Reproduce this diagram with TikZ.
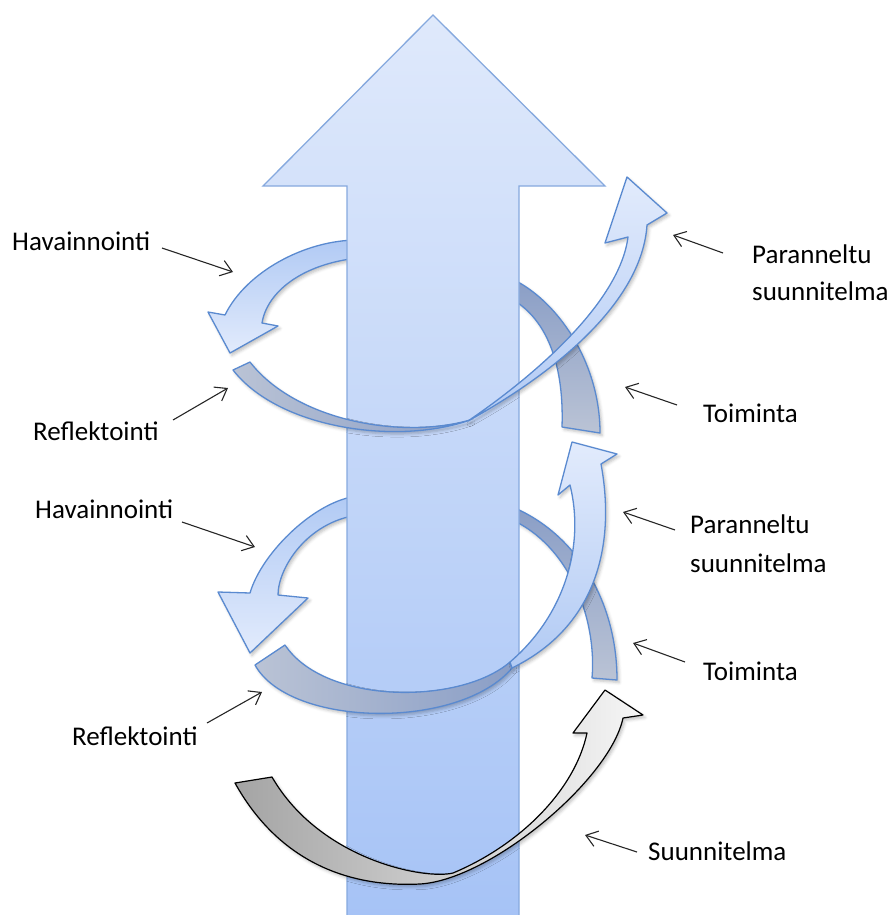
\documentclass[tikz,border=0pt]{standalone}
\usepackage{fontspec}
\setmainfont{Carlito}
\usetikzlibrary{arrows.meta,shadows.blur}
\definecolor{bigtop}{HTML}{DFE9FB}
\definecolor{bigbot}{HTML}{A6C3F6}
\definecolor{bigedge}{HTML}{86A9DE}
\definecolor{bluelt}{HTML}{E2EBFC}
\definecolor{bluemd}{HTML}{B1CAF4}
\definecolor{blueedge}{HTML}{5A8AD0}
\definecolor{gbdark}{HTML}{8A9EC6}
\definecolor{gblight}{HTML}{BAC3D5}
\definecolor{greydark}{HTML}{A4A4A4}
\definecolor{greylight}{HTML}{F6F6F6}
\tikzset{
  lbl/.style={font=\fontsize{27}{32}\selectfont, anchor=base west, inner sep=0pt, text=black},
  ptr/.style={draw=black!85, line width=1.1pt, -{Straight Barb[length=11pt,width=16pt,line width=1.1pt]}},
  ribbon/.style={draw=blueedge, line width=1.3pt, line join=round,
     blur shadow={shadow xshift=2pt, shadow yshift=-2.5pt, shadow blur radius=3pt, shadow opacity=25}},
  greyribbon/.style={draw=black, line width=1.2pt, line join=round,
     blur shadow={shadow xshift=2pt, shadow yshift=-2.5pt, shadow blur radius=3pt, shadow opacity=25}}
}
\begin{document}
\begin{tikzpicture}[x=1pt,y=-1pt]
\useasboundingbox (0,0) rectangle (896,915);

% ---------- pieces behind the big arrow ----------
% top Toiminta
\path[ribbon, top color=gbdark, bottom color=gblight]
  (510,278) .. controls (555,298) and (600,360) .. (600,433)
  -- (562,427) .. controls (564,370) and (550,320) .. (510,298) -- cycle;
% top Havainnointi
\path[ribbon, top color=bluemd, bottom color=bluelt]
  (358,240) .. controls (305,240) and (246,272) .. (225,315)
  -- (208,312) -- (230,353) -- (278,326) -- (262,323)
  .. controls (267,292) and (302,264) .. (358,258) -- cycle;
% bottom Toiminta
\path[ribbon, top color=gbdark, bottom color=gblight]
  (510,506) .. controls (575,532) and (617,600) .. (617,680)
  -- (592,678) .. controls (597,620) and (570,545) .. (510,519) -- cycle;
% bottom Havainnointi
\path[ribbon, top color=bluemd, bottom color=bluelt]
  (358,496) .. controls (316,500) and (262,552) .. (250,593)
  -- (218,592) -- (250,653) -- (308,598) -- (278,595)
  .. controls (278,568) and (307,522) .. (358,515) -- cycle;

% ---------- big arrow ----------
\path[draw=bigedge, line width=1.3pt, line join=miter, top color=bigtop, bottom color=bigbot]
  (347,920) -- (347,186) -- (263,186) -- (433,15) -- (605,186) -- (519,186) -- (519,920) -- cycle;

% ---------- pieces in front ----------
% top Reflektointi
\path[ribbon, left color=gblight, right color=gbdark]
  (233,370) .. controls (280,430) and (400,445) .. (470,420)
  .. controls (400,440) and (295,420) .. (250,362) -- cycle;
% top Paranneltu suunnitelma
\path[ribbon, top color=bluelt, bottom color=bluemd]
  (468,421) .. controls (540,372) and (620,300) .. (628,237)
  -- (605,243) -- (627,177) -- (667,213) -- (647,225)
  .. controls (642,300) and (560,370) .. (468,421) -- cycle;
% bottom Reflektointi
\path[ribbon, left color=gblight, right color=gbdark]
  (255,665) .. controls (290,728) and (460,730) .. (512,668)
  -- (510,662) .. controls (460,705) and (325,705) .. (285,645) -- cycle;
% bottom Paranneltu suunnitelma
\path[ribbon, top color=bluelt, bottom color=bluemd]
  (510,662) .. controls (565,615) and (585,545) .. (570,485)
  -- (558,495) -- (572,442) -- (617,454) -- (601,464)
  .. controls (615,540) and (600,625) .. (512,668) -- cycle;
% Suunnitelma (grey)
\path[greyribbon, left color=greydark, right color=greylight]
  (235,783) .. controls (275,855) and (340,888) .. (420,884)
  .. controls (490,880) and (610,780) .. (623,718)
  -- (643,715) -- (605,690) -- (573,733) -- (587,733)
  .. controls (575,790) and (520,845) .. (453,873)
  .. controls (425,880) and (320,860) .. (272,777) -- cycle;

% ---------- labels ----------
\node[lbl] (h1) at (12,250) {Havainnointi};
\node[lbl] (r1) at (33,440) {Reflektointi};
\node[lbl] (p1) at (752,263) {Paranneltu};
\node[lbl] (p1b) at (752,300) {suunnitelma};
\node[lbl] (t1) at (703,422) {Toiminta};
\node[lbl] (h2) at (35,518) {Havainnointi};
\node[lbl] (r2) at (72,745) {Reflektointi};
\node[lbl] (p2) at (690,533) {Paranneltu};
\node[lbl] (p2b) at (690,572) {suunnitelma};
\node[lbl] (t2) at (703,680) {Toiminta};
\node[lbl] (s0) at (648,860) {Suunnitelma};

\coordinate (h1a) at (162,248); \coordinate (h1b) at (233,272);
\coordinate (r1a) at (173,420); \coordinate (r1b) at (228,388);
\coordinate (p1a) at (723,253); \coordinate (p1c) at (673,235);
\coordinate (t1a) at (677,405); \coordinate (t1b) at (625,387);
\coordinate (h2a) at (182,522); \coordinate (h2b) at (255,547);
\coordinate (r2a) at (207,723); \coordinate (r2b) at (262,692);
\coordinate (p2a) at (675,530); \coordinate (p2c) at (623,512);
\coordinate (t2a) at (685,662); \coordinate (t2b) at (633,643);
\coordinate (s0a) at (637,852); \coordinate (s0b) at (585,835);

\draw[ptr] (h1a) -- (h1b);
\draw[ptr] (r1a) -- (r1b);
\draw[ptr] (p1a) -- (p1c);
\draw[ptr] (t1a) -- (t1b);
\draw[ptr] (h2a) -- (h2b);
\draw[ptr] (r2a) -- (r2b);
\draw[ptr] (p2a) -- (p2c);
\draw[ptr] (t2a) -- (t2b);
\draw[ptr] (s0a) -- (s0b);
\end{tikzpicture}
\end{document}
